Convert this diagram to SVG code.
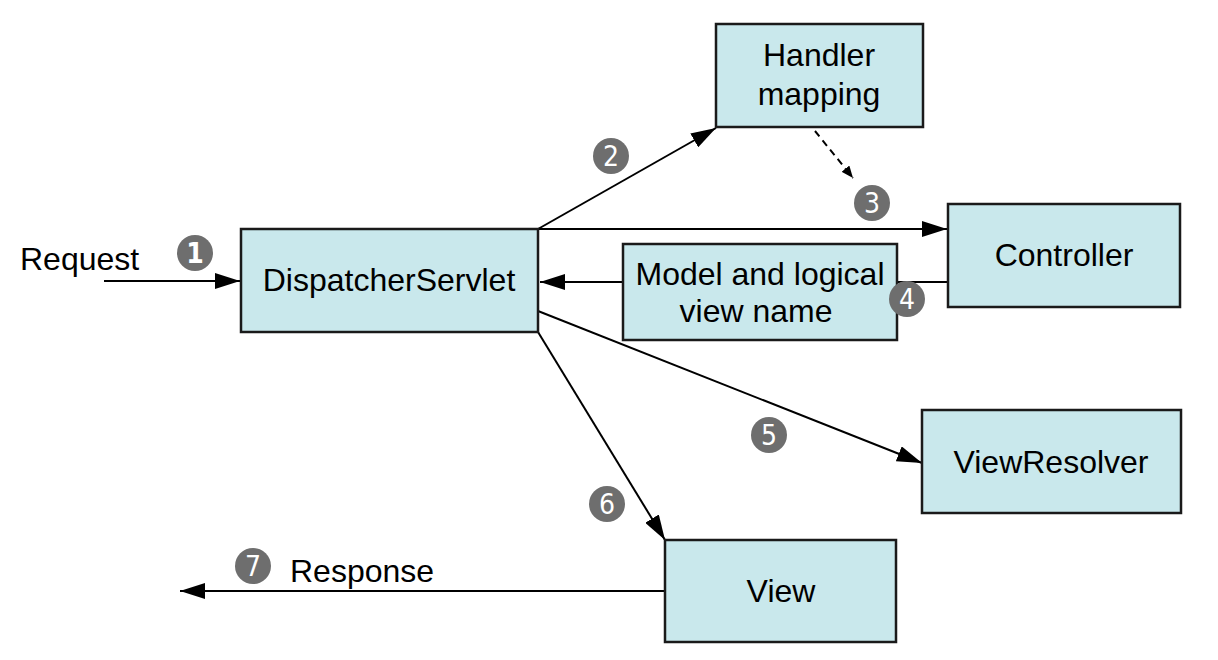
<svg xmlns="http://www.w3.org/2000/svg" width="1218" height="660" viewBox="0 0 1218 660">
<style>
.box{fill:#c9e8ec;stroke:#1a1a1a;stroke-width:2.5}
.lbl{font-family:"Liberation Sans",Arial,sans-serif;font-size:32px;fill:#000;text-anchor:middle}
.txt{font-family:"Liberation Sans",Arial,sans-serif;font-size:32px;fill:#000}
.conn{stroke:#000;stroke-width:2;fill:none}
.badge circle{fill:#6e6e6e}
.badge text{font-family:"Liberation Sans Narrow","DejaVu Sans Condensed",sans-serif;font-size:28px;fill:#fff;text-anchor:middle}
</style>
<defs>
<marker id="ah" markerUnits="userSpaceOnUse" markerWidth="26" markerHeight="16" refX="25" refY="8" orient="auto">
<path d="M0,0 L25,8 L0,16 z" fill="#000"/>
</marker>
<marker id="ahs" markerUnits="userSpaceOnUse" markerWidth="13" markerHeight="10" refX="12" refY="5" orient="auto">
<path d="M0,0 L12,5 L0,10 z" fill="#000"/>
</marker>
</defs>
<rect width="1218" height="660" fill="#fff"/>
<g id="connectors">
<line class="conn" x1="104" y1="281" x2="240" y2="281" marker-end="url(#ah)"/>
<line class="conn" x1="538" y1="229" x2="716" y2="128" marker-end="url(#ah)"/>
<line class="conn" x1="815" y1="131" x2="853" y2="178" stroke-dasharray="7,5" marker-end="url(#ahs)"/>
<line class="conn" x1="538" y1="229" x2="947" y2="229" marker-end="url(#ah)"/>
<line class="conn" x1="948" y1="282" x2="540" y2="282" marker-end="url(#ah)"/>
<line class="conn" x1="538" y1="311" x2="922" y2="463" marker-end="url(#ah)"/>
<line class="conn" x1="538" y1="332" x2="665" y2="540" marker-end="url(#ah)"/>
<line class="conn" x1="665" y1="591" x2="180" y2="591" marker-end="url(#ah)"/>
</g>
<g id="handler-mapping">
<rect class="box" x="716" y="24" width="207" height="103"/>
<text class="lbl" x="819" y="66">Handler</text>
<text class="lbl" x="819" y="105">mapping</text>
</g>
<g id="dispatcher-servlet">
<rect class="box" x="241" y="229" width="297" height="103"/>
<text class="lbl" x="389" y="291">DispatcherServlet</text>
</g>
<g id="controller">
<rect class="box" x="948" y="204" width="232" height="103"/>
<text class="lbl" x="1064" y="266">Controller</text>
</g>
<g id="model">
<rect class="box" x="623" y="244" width="274" height="96"/>
<text class="lbl" x="760" y="285">Model and logical</text>
<text class="lbl" x="756" y="322">view name</text>
</g>
<g id="view-resolver">
<rect class="box" x="922" y="410" width="259" height="103"/>
<text class="lbl" x="1051" y="473">ViewResolver</text>
</g>
<g id="view">
<rect class="box" x="665" y="540" width="231" height="102"/>
<text class="lbl" x="781" y="602">View</text>
</g>
<g id="labels">
<text class="txt" x="20" y="270">Request</text>
<text class="txt" x="290" y="582">Response</text>
</g>
<g id="badges">
<g class="badge"><circle cx="195" cy="253" r="18"/><text x="195" y="263" font-family="Liberation Sans" font-weight="bold" font-size="26">1</text></g>
<g class="badge"><circle cx="611" cy="156" r="18"/><text x="611" y="166">2</text></g>
<g class="badge"><circle cx="872" cy="203" r="18"/><text x="872" y="213">3</text></g>
<g class="badge"><circle cx="907" cy="299" r="18"/><text x="907" y="309">4</text></g>
<g class="badge"><circle cx="769" cy="435" r="18"/><text x="769" y="445">5</text></g>
<g class="badge"><circle cx="607" cy="504" r="18"/><text x="607" y="514">6</text></g>
<g class="badge"><circle cx="253" cy="566" r="18"/><text x="253" y="576">7</text></g>
</g>
</svg>
